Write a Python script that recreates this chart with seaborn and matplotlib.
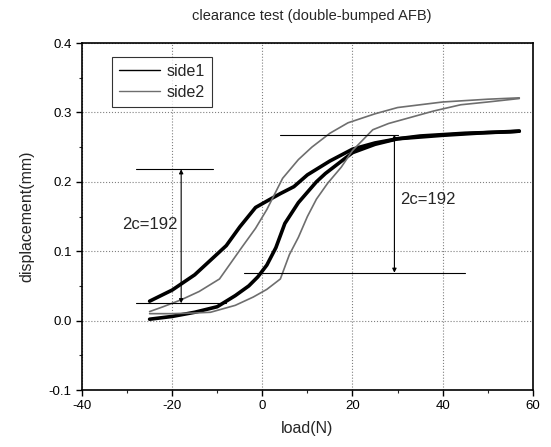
import matplotlib
matplotlib.use("Agg")
import matplotlib.pyplot as plt
from matplotlib.lines import Line2D
from matplotlib.ticker import MultipleLocator, FormatStrFormatter
import seaborn as sns
import pandas as pd

# ---- data ----
side1_load_x = [-25, -20, -15, -10, -6, -3, -1, 1, 3, 5, 8, 10, 12, 14, 16, 18, 20, 25, 30, 35, 40, 45, 50, 55, 57]
side1_load_y = [0.002, 0.006, 0.012, 0.020, 0.036, 0.050, 0.063, 0.080, 0.105, 0.140, 0.170, 0.185, 0.200, 0.212,
                0.222, 0.232, 0.242, 0.254, 0.262, 0.266, 0.268, 0.270, 0.271, 0.272, 0.273]
side1_unload_x = [57, 50, 40, 30, 25, 20, 15, 10, 7, 4, 1.5, -1.5, -5, -8, -11.5, -15, -20, -25]
side1_unload_y = [0.273, 0.271, 0.267, 0.262, 0.256, 0.247, 0.230, 0.210, 0.193, 0.183, 0.174, 0.163, 0.135,
                  0.108, 0.087, 0.066, 0.044, 0.028]
side2_load_x = [-25, -20, -15, -11.5, -6, -2, 1, 4, 6, 8, 10, 12, 14.5, 17.5, 20, 24.5, 28, 33, 38, 44, 50, 57]
side2_load_y = [0.010, 0.010, 0.011, 0.012, 0.022, 0.034, 0.045, 0.060, 0.095, 0.120, 0.150, 0.175, 0.198, 0.221,
                0.245, 0.275, 0.284, 0.293, 0.302, 0.311, 0.315, 0.320]
side2_unload_x = [57, 50, 40, 30, 25, 19, 15, 11, 8, 4.5, 1, -1.5, -4.5, -9.5, -14, -18, -22, -25]
side2_unload_y = [0.321, 0.319, 0.315, 0.307, 0.298, 0.285, 0.270, 0.250, 0.232, 0.205, 0.160, 0.133, 0.106,
                  0.060, 0.042, 0.030, 0.020, 0.013]

series_names = ["side1", "side2"]
title_text = "clearance test (double-bumped AFB)"
x_label = "load(N)"
y_label = "displacement(mm)"
clearance_label = "2c=192"

# annotation guides (data coordinates)
left_guide_y = [0.218, 0.025]
left_guide_x = [[-28, -11], [-28, -8]]
left_arrow_x = -18
right_guide_y = [0.268, 0.069]
right_guide_x = [[4, 30], [-4, 45]]
right_arrow_x = 29.3

# ---- style ----
sns.set_theme(style="ticks")
plt.rcParams["font.family"] = ["Liberation Sans", "DejaVu Sans"]
plt.rcParams["axes.unicode_minus"] = False

fig = plt.figure(figsize=(5.51, 4.47), dpi=100)
ax = fig.add_axes([0.1488, 0.1275, 0.8182, 0.7763])

c1, c2 = "black", "#6e6e6e"
branches = [
    (side1_load_x, side1_load_y, c1, 2.6),
    (side1_unload_x, side1_unload_y, c1, 2.6),
    (side2_load_x, side2_load_y, c2, 1.2),
    (side2_unload_x, side2_unload_y, c2, 1.2),
]
for bx, by, col, lw in branches:
    df = pd.DataFrame({"load": bx, "disp": by})
    sns.lineplot(data=df, x="load", y="disp", sort=False, estimator=None,
                 color=col, lw=lw, ax=ax, legend=False)

# guides and arrows
for gy, gx in zip(left_guide_y, left_guide_x):
    ax.plot(gx, [gy, gy], color="black", lw=0.8)
for gy, gx in zip(right_guide_y, right_guide_x):
    ax.plot(gx, [gy, gy], color="black", lw=0.8)
arrow_kw = dict(arrowstyle="<|-|>", color="black", lw=0.8, mutation_scale=6, shrinkA=0, shrinkB=0)
ax.annotate("", xy=(left_arrow_x, left_guide_y[0]), xytext=(left_arrow_x, left_guide_y[1]), arrowprops=arrow_kw)
ax.annotate("", xy=(right_arrow_x, right_guide_y[0]), xytext=(right_arrow_x, right_guide_y[1]), arrowprops=arrow_kw)
ax.text(-25, 0.138, clearance_label, fontsize=12, ha="center", va="center")
ax.text(30.5, 0.174, clearance_label, fontsize=12, ha="left", va="center")

# axes
ax.set_xlim(-40, 60)
ax.set_ylim(-0.1, 0.4)
ax.xaxis.set_major_locator(MultipleLocator(20))
ax.xaxis.set_minor_locator(MultipleLocator(10))
ax.yaxis.set_major_locator(MultipleLocator(0.1))
ax.yaxis.set_minor_locator(MultipleLocator(0.05))
ax.yaxis.set_major_formatter(FormatStrFormatter("%.1f"))
ax.tick_params(which="major", direction="out", length=4, width=1, labelsize=9.5, colors="black")
ax.tick_params(which="minor", direction="out", length=2.5, width=0.8)
ax.grid(True, which="major", linestyle=":", color="#808080", lw=0.8)
for s in ax.spines.values():
    s.set_visible(True)
    s.set_color("black")
    s.set_linewidth(1.2)

ax.set_xlabel(x_label, fontsize=11.5, labelpad=6)
ax.set_ylabel(y_label, fontsize=11.5, labelpad=10)
fig.text(0.565, 0.965, title_text, fontsize=10.5, ha="center", va="center")

handles = [Line2D([], [], color=c1, lw=1.0), Line2D([], [], color=c2, lw=1.0)]
leg = ax.legend(handles, series_names, loc="upper left", bbox_to_anchor=(0.066, 0.96),
                fontsize=11.5, frameon=True, fancybox=False, edgecolor="black",
                handlelength=2.6, borderpad=0.45, labelspacing=0.35, handletextpad=0.4, borderaxespad=0)
leg.get_frame().set_linewidth(0.8)

fig.savefig("out.png", dpi=100)
